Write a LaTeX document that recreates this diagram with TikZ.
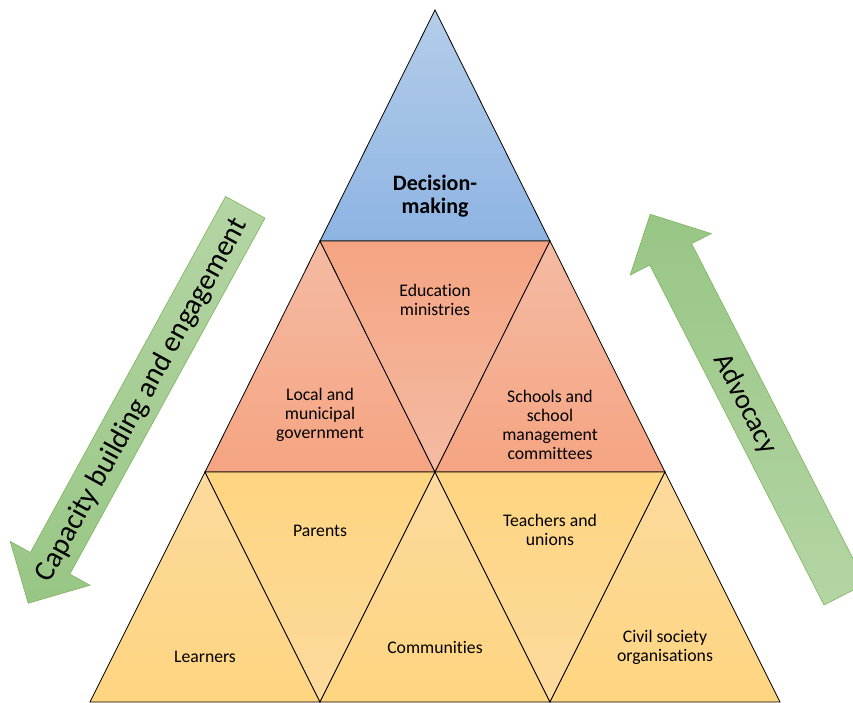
\documentclass[tikz,border=0pt]{standalone}
\usepackage{fontspec}
\setmainfont[Ligatures=NoCommon]{Carlito}
\definecolor{bluetop}{HTML}{B4CDEA}
\definecolor{bluebot}{HTML}{8EB4E3}
\definecolor{orlight}{HTML}{F4BBA3}
\definecolor{ordark}{HTML}{F5A482}
\definecolor{yelight}{HTML}{FDDA9E}
\definecolor{yedark}{HTML}{FED580}
\definecolor{grlight}{HTML}{B4D5A4}
\definecolor{grdark}{HTML}{98C685}
\definecolor{grline}{HTML}{7DB45C}
\tikzset{
  tri/.style={draw=black, line width=0.8pt, line join=miter},
  blueup/.style={tri, top color=bluetop, bottom color=bluebot},
  orup/.style={tri, top color=orlight, bottom color=ordark},
  ordown/.style={tri, top color=ordark, bottom color=orlight},
  yeup/.style={tri, top color=yelight, bottom color=yedark},
  yedown/.style={tri, top color=yedark, bottom color=yelight},
  bigarrow/.style={draw=grline, line width=0.6pt},
  lbl/.style={font=\fontsize{17.7}{19.2}\selectfont, align=center, inner sep=0pt},
  arrowlbl/.style={font=\fontsize{29.3}{31}\selectfont, inner sep=0pt},
}
\begin{document}
\begin{tikzpicture}[x=1pt, y=-1pt]
\clip (0,0) rectangle (853,702);
\fill[white] (0,0) rectangle (853,702);

% top
\shade[blueup] (435,10) -- (550,241) -- (320,241) -- cycle;
% middle row
\shade[orup] (320,241) -- (435,472) -- (205,472) -- cycle;
\shade[ordown] (320,241) -- (550,241) -- (435,472) -- cycle;
\shade[orup] (550,241) -- (665,472) -- (435,472) -- cycle;
% bottom row
\shade[yeup] (205,472) -- (320,702) -- (90,702) -- cycle;
\shade[yedown] (205,472) -- (435,472) -- (320,702) -- cycle;
\shade[yeup] (435,472) -- (550,702) -- (320,702) -- cycle;
\shade[yedown] (435,472) -- (665,472) -- (550,702) -- cycle;
\shade[yeup] (665,472) -- (780,702) -- (550,702) -- cycle;

% arrows
\shade[bigarrow, top color=grlight, bottom color=grdark]
  (225.6,196.5) -- (265.0,218.1) -- (69.8,574.1) -- (90.0,585.2) -- (28.2,603.2) -- (10.2,541.4) -- (30.4,552.5) -- cycle;
\shade[bigarrow, top color=grdark, bottom color=grlight]
  (824.0,605.0) -- (865.8,583.6) -- (691.6,243.6) -- (711.2,233.6) -- (650.2,214.3) -- (630.2,275.0) -- (649.8,265.0) -- cycle;

\node[arrowlbl, rotate=61.2] (capacity) at (142,400) {Capacity building and engagement};
\node[arrowlbl, font=\fontsize{28}{30}\selectfont, rotate=-62.9] (advocacy) at (745,404) {Advocacy};

% labels
\node[lbl, font=\fontsize{22}{23.3}\selectfont\bfseries] (decision) at (435,196) {Decision-\\making};
\node[lbl] (edu) at (435,300) {Education\\ministries};
\node[lbl] (local) at (320,415) {Local and\\municipal\\government};
\node[lbl] (schools) at (550,425) {Schools and\\school\\management\\committees};
\node[lbl] (parents) at (320,531) {Parents};
\node[lbl] (teachers) at (550,530) {Teachers and\\unions};
\node[lbl] (learners) at (205,657) {Learners};
\node[lbl] (communities) at (435,647) {Communities};
\node[lbl] (civil) at (665,647) {Civil society\\organisations};
\end{tikzpicture}
\end{document}
